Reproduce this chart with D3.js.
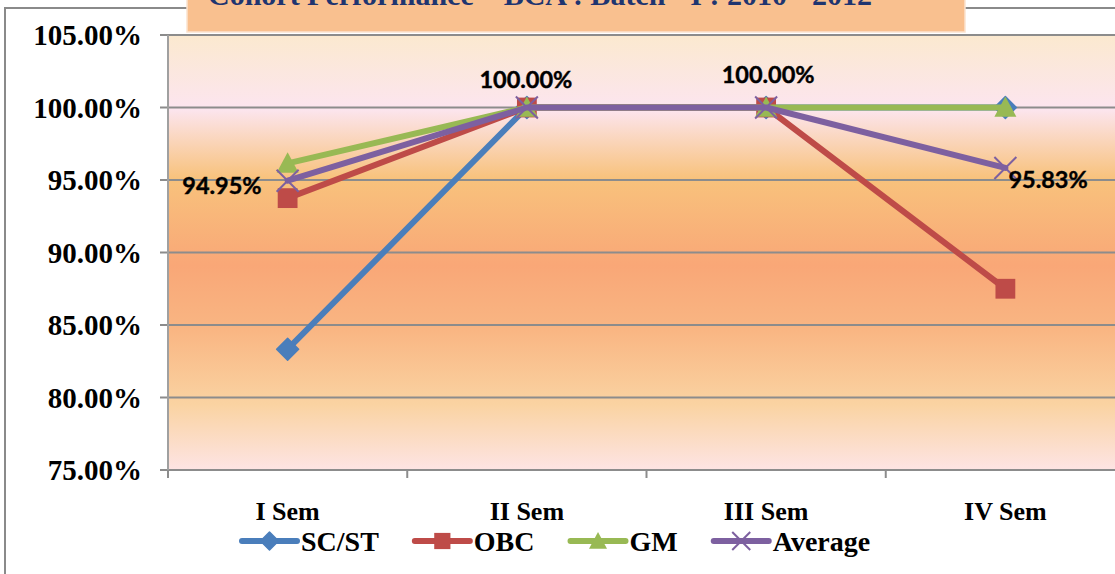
<!DOCTYPE html>
<html>
<head>
<meta charset="utf-8">
<script src="https://cdn.jsdelivr.net/npm/d3@7"></script>
<style>
  body { margin: 0; background: #fff; }
  svg text { font-family: "Liberation Serif", "Times New Roman", serif; font-weight: bold; }
  .dlabel { font-family: "Lato", "Open Sans", sans-serif !important; }
</style>
</head>
<body>
<svg id="chart" width="1115" height="574"></svg>
<script>
// chart data
var semesters = ["I Sem", "II Sem", "III Sem", "IV Sem"];
var scst    = [83.33, 100, 100, 100];
var obc     = [93.75, 100, 100, 87.5];
var gm      = [96.15, 100, 100, 100];
var average = [94.95, 100, 100, 95.83];
var yTicks  = [75, 80, 85, 90, 95, 100, 105];
var chartTitle = "Cohort Performance \u2013 BCA : Batch - I : 2010 - 2012";

var series = [
  { name: "SC/ST",   values: scst,    color: "#4A7EBB", marker: "diamond" },
  { name: "OBC",     values: obc,     color: "#BE4B48", marker: "square" },
  { name: "GM",      values: gm,      color: "#98B954", marker: "triangle" },
  { name: "Average", values: average, color: "#7D60A0", marker: "x" }
];

var svg = d3.select("#chart");
var plotLeft = 168, plotRight = 1125, plotTop = 35, plotBottom = 470;

var x = d3.scalePoint().domain(semesters).range([plotLeft, plotRight]).padding(0.5);
var y = d3.scaleLinear().domain([75, 105]).range([plotBottom, plotTop]);

// outer frame of the chart (partly hidden by title box)
svg.append("path")
  .attr("d", "M5,574 V8 H1115")
  .attr("fill", "none").attr("stroke", "#8a8a8a").attr("stroke-width", 2);

// background gradient of the plot area
var grad = svg.append("defs").append("linearGradient")
  .attr("id", "bg").attr("x1", 0).attr("y1", 0).attr("x2", 0).attr("y2", 1);
[[0, "#FBE9CF"], [0.17, "#FCE5EF"], [0.33, "#F8C27C"], [0.53, "#F9A777"],
 [0.68, "#F9B683"], [0.85, "#FAD3A2"], [1, "#FDE4E4"]].forEach(function (s) {
  grad.append("stop").attr("offset", s[0]).attr("stop-color", s[1]);
});
svg.append("rect")
  .attr("x", plotLeft).attr("y", plotTop)
  .attr("width", plotRight - plotLeft).attr("height", plotBottom - plotTop)
  .attr("fill", "url(#bg)");

// gridlines + y labels
svg.append("g").selectAll("line").data(yTicks).enter().append("line")
  .attr("x1", plotLeft - 8).attr("x2", plotRight)
  .attr("y1", function (d) { return y(d); }).attr("y2", function (d) { return y(d); })
  .attr("stroke", "#8c8c8c").attr("stroke-width", 2);

svg.append("g").selectAll("text").data(yTicks).enter().append("text")
  .attr("x", 142).attr("y", function (d) { return y(d) + 10; })
  .attr("text-anchor", "end").attr("font-size", 29).attr("fill", "#000")
  .text(function (d) { return d.toFixed(2) + "%"; });

// y axis line
svg.append("line").attr("x1", plotLeft).attr("x2", plotLeft).attr("y1", plotTop).attr("y2", plotBottom)
  .attr("stroke", "#a0a0a0").attr("stroke-width", 2);

// x ticks between categories
var step = x.step();
var xTickPos = semesters.map(function (s) { return x(s) - step / 2; });
svg.append("g").selectAll("line").data(xTickPos).enter().append("line")
  .attr("x1", function (d) { return d; }).attr("x2", function (d) { return d; })
  .attr("y1", plotBottom).attr("y2", plotBottom + 8)
  .attr("stroke", "#8c8c8c").attr("stroke-width", 2);

svg.append("g").selectAll("text").data(semesters).enter().append("text")
  .attr("x", function (d) { return x(d); }).attr("y", 520)
  .attr("text-anchor", "middle").attr("font-size", 26)
  .text(function (d) { return d; });

// markers
function drawMarker(g, type, color, cx, cy, s) {
  if (type === "diamond") {
    g.append("path").attr("d", "M" + cx + "," + (cy - s) + " L" + (cx + s) + "," + cy +
      " L" + cx + "," + (cy + s) + " L" + (cx - s) + "," + cy + "Z")
      .attr("fill", color).attr("stroke", color).attr("stroke-linejoin", "round").attr("stroke-width", 1.5);
  } else if (type === "square") {
    g.append("rect").attr("x", cx - s * 0.9).attr("y", cy - s * 0.9)
      .attr("width", s * 1.8).attr("height", s * 1.8).attr("fill", color);
  } else if (type === "triangle") {
    g.append("path").attr("d", "M" + cx + "," + (cy - s) + " L" + (cx + s) + "," + (cy + s * 0.85) +
      " L" + (cx - s) + "," + (cy + s * 0.85) + "Z").attr("fill", color);
  } else {
    g.append("path").attr("d", "M" + (cx - s) + "," + (cy - s) + " L" + (cx + s) + "," + (cy + s) +
      " M" + (cx + s) + "," + (cy - s) + " L" + (cx - s) + "," + (cy + s))
      .attr("stroke", color).attr("stroke-width", 2).attr("fill", "none");
  }
}

var line = d3.line()
  .x(function (d, i) { return x(semesters[i]); })
  .y(function (d) { return y(d); });

series.forEach(function (s) {
  var g = svg.append("g");
  g.append("path").datum(s.values).attr("d", line)
    .attr("fill", "none").attr("stroke", s.color).attr("stroke-width", 6)
    .attr("stroke-linejoin", "round").attr("stroke-linecap", "round");
  s.values.forEach(function (v, i) {
    drawMarker(g, s.marker, s.color, x(semesters[i]), y(v), 11);
  });
});

// data labels for the Average series
var labelPos = [
  { dx: -26, dy: 13, anchor: "end" },
  { dx: -1, dy: -20, anchor: "middle" },
  { dx: 2, dy: -25, anchor: "middle" },
  { dx: 3, dy: 20, anchor: "start" }
];
svg.append("g").selectAll("text").data(average).enter().append("text")
  .attr("class", "dlabel")
  .attr("x", function (d, i) { return x(semesters[i]) + labelPos[i].dx; })
  .attr("y", function (d, i) { return y(d) + labelPos[i].dy; })
  .attr("text-anchor", function (d, i) { return labelPos[i].anchor; })
  .attr("font-size", 23.5)
  .attr("stroke", "#000").attr("stroke-width", 0.4)
  .text(function (d) { return d.toFixed(2) + "%"; });

// legend
var lx = 242, ly = 541;
series.forEach(function (s) {
  var g = svg.append("g");
  g.append("line").attr("x1", lx).attr("x2", lx + 55).attr("y1", ly).attr("y2", ly)
    .attr("stroke", s.color).attr("stroke-width", 6).attr("stroke-linecap", "round");
  drawMarker(g, s.marker, s.color, lx + 27.5, ly, 9);
  var t = g.append("text").attr("x", lx + 59).attr("y", ly + 10)
    .attr("font-size", 28).text(s.name);
  lx = lx + 59 + t.node().getComputedTextLength() + 36;
});

// title box (cut off at the top)
svg.append("rect").attr("x", 187).attr("y", -2).attr("width", 778).attr("height", 34)
  .attr("fill", "#F9C08F").attr("stroke", "#fbe3cf").attr("stroke-width", 1.5);
svg.append("text").attr("x", 540).attr("y", 5)
  .attr("text-anchor", "middle").attr("font-size", 30).attr("fill", "#1F3570")
  .text(chartTitle);
</script>
</body>
</html>
